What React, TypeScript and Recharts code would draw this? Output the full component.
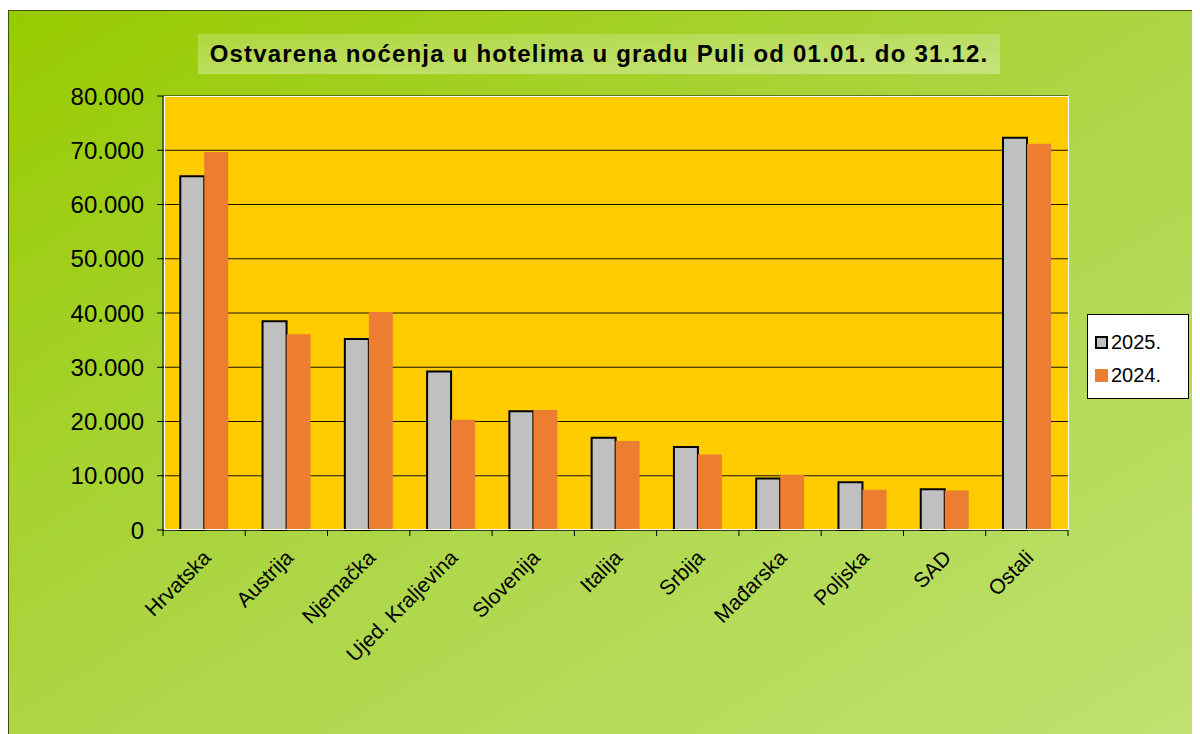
import { BarChart, Bar, XAxis, YAxis, CartesianGrid, Legend } from "recharts";

const countries = [
  "Hrvatska", "Austrija", "Njemačka", "Ujed. Kraljevina", "Slovenija",
  "Italija", "Srbija", "Mađarska", "Poljska", "SAD", "Ostali",
];
const nights2025 = [65200, 38500, 35200, 29200, 21900, 17000, 15300, 9500, 8800, 7500, 72300];
const nights2024 = [69700, 36100, 40200, 20300, 22100, 16400, 13900, 10200, 7400, 7300, 71200];
const yTicks = [0, 10000, 20000, 30000, 40000, 50000, 60000, 70000, 80000];

const data = countries.map((c, i) => ({ name: c, y2025: nights2025[i], y2024: nights2024[i] }));

const W = 1191;
const H = 723;
const font = "'Liberation Sans', Arial, sans-serif";

const fmt = (v: number) => (v === 0 ? "0" : v.toLocaleString("de-DE"));

// label + tick marks at the category boundaries
function CountryTick(props: any) {
  const { x, y, payload, index } = props;
  const off = payload?.offset ?? 0;
  const last = index === countries.length - 1;
  return (
    <g>
      {off > 0 && <line x1={x - off} x2={x - off} y1={y} y2={y + 6} stroke="#000" />}
      {off > 0 && last && <line x1={x + off} x2={x + off} y1={y} y2={y + 6} stroke="#000" />}
      <g transform={`translate(${x + 8},${y + 29}) rotate(-45)`}>
        <text textAnchor="end" fontSize={21} fontFamily={font} fill="#000">
          {payload.value}
        </text>
      </g>
    </g>
  );
}

function LegendBox() {
  const items = [
    { label: "2025.", fill: "#C0C0C0", stroke: "#000" },
    { label: "2024.", fill: "#ED7D31", stroke: "none" },
  ];
  return (
    <div
      style={{
        width: 102,
        height: 85,
        background: "#fff",
        border: "1px solid #000",
        boxSizing: "border-box",
        fontFamily: font,
        fontSize: 20,
        padding: "11px 0 0 7px",
      }}
    >
      {items.map((it) => (
        <div key={it.label} style={{ display: "flex", alignItems: "center", height: 33 }}>
          <span
            style={{
              width: 13,
              height: 13,
              background: it.fill,
              border: it.stroke === "none" ? "1px solid " + it.fill : "2px solid #000",
              marginRight: 3,
              boxSizing: "border-box",
            }}
          />
          <span>{it.label}</span>
        </div>
      ))}
    </div>
  );
}

export default function App() {
  return (
    <div
      style={{
        position: "relative",
        width: W,
        height: H,
        marginTop: 2,
        borderTop: "1px solid #44520f",
        borderLeft: "1px solid #44520f",
        background: "linear-gradient(to bottom right, #97cb00 0%, #acd645 50%, #c0e170 100%)",
        overflow: "hidden",
      }}
    >
      <div
        style={{
          position: "absolute",
          left: 189,
          top: 23,
          width: 802,
          height: 40,
          background: "linear-gradient(to bottom, rgba(255,255,255,0.2), rgba(255,255,255,0.32))",
          fontFamily: font,
          fontWeight: "bold",
          fontSize: 24,
          letterSpacing: 1.2,
          lineHeight: "40px",
          textAlign: "center",
          color: "#000",
          whiteSpace: "nowrap",
        }}
      >
        Ostvarena noćenja u hotelima u gradu Puli od 01.01. do 31.12.
      </div>
      <BarChart
        width={W}
        height={H}
        data={data}
        margin={{ top: 85, left: 74, right: 132, bottom: 54 }}
        barCategoryGap="21%"
        barGap={0}
      >
        <CartesianGrid vertical={false} fill="#FFCC00" stroke="#000" strokeOpacity={0.9} />
        <XAxis
          dataKey="name"
          interval={0}
          height={150}
          tickLine={false}
          tickSize={0}
          tickMargin={0}
          axisLine={{ stroke: "#000", strokeWidth: 1 }}
          tick={<CountryTick />}
        />
        <YAxis
          domain={[0, 80000]}
          ticks={yTicks}
          width={80}
          tickFormatter={fmt}
          axisLine={{ stroke: "#000" }}
          tickLine={{ stroke: "#000" }}
          tickSize={6}
          tickMargin={13}
          tick={{ fill: "#000", fontSize: 24, fontFamily: font }}
        />
        <Legend
          layout="horizontal"
          verticalAlign="middle"
          align="center"
          content={<LegendBox />}
          wrapperStyle={{ left: 1078, top: 303, width: 102 }}
        />
        <Bar dataKey="y2025" name="2025." fill="#C0C0C0" stroke="#000" strokeWidth={2} isAnimationActive={false} />
        <Bar dataKey="y2024" name="2024." fill="#ED7D31" isAnimationActive={false} />
      </BarChart>
      <div
        style={{
          position: "absolute",
          left: 155,
          top: 85,
          width: 905,
          height: 434,
          border: "1px solid #fff",
          boxSizing: "border-box",
          pointerEvents: "none",
        }}
      />
    </div>
  );
}
